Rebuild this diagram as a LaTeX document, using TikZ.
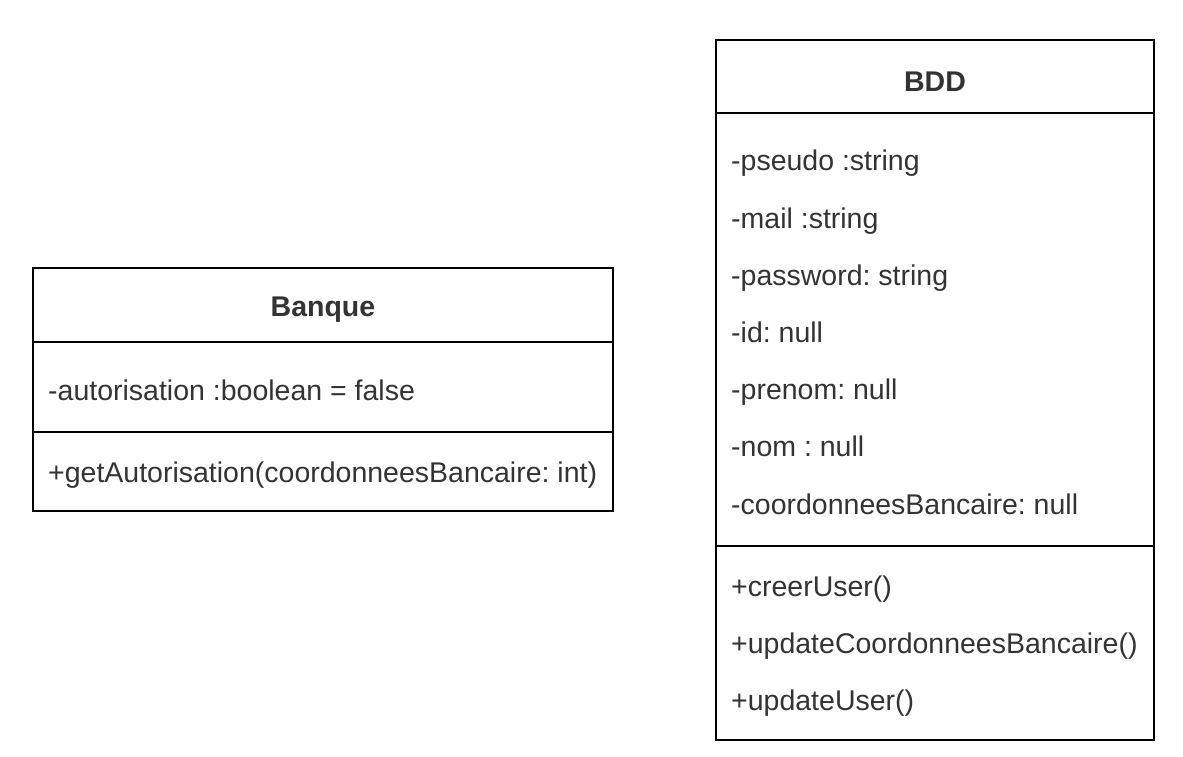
\documentclass[tikz,border=0pt]{standalone}
\usepackage{fontspec}
\setmainfont{Liberation Sans}
\usepackage{tikz}
\definecolor{txtgray}{HTML}{333333}
\frenchspacing

\tikzset{
    part/.style={draw, line width=2pt, rectangle, inner sep=0pt},
    field/.style={anchor=west, inner sep=0pt, text=txtgray, text height=20pt, text depth=6pt,
        font=\fontsize{28.5}{34}\selectfont, yshift=-4pt},
    classname/.style={inner sep=0pt, text=txtgray, font=\fontsize{28.5}{34}\selectfont\bfseries, yshift=-5pt}
}

\begin{document}
\begin{tikzpicture}[x=1pt, y=-1pt]
        \useasboundingbox (0,0) rectangle (1183,757);

        % Banque
        \node[part, minimum width=580pt, minimum height=74pt] (banqueTitle) at (323, 305) {};
        \node[part, minimum width=580pt, minimum height=90pt] (banqueAttr) at (323, 387) {};
        \node[part, minimum width=580pt, minimum height=79pt] (banqueOps) at (323, 471.5) {};
        \node[classname] (banque) at (banqueTitle) {Banque};
        \node[field] (autorisation) at (48, 389) {-autorisation :boolean = false};
        \node[field] (getAutorisation) at (48, 471) {+getAutorisation(coordonneesBancaire: int)};

        % BDD
        \node[part, minimum width=438pt, minimum height=73pt] (bddTitle) at (935, 76.5) {};
        \node[part, minimum width=438pt, minimum height=433pt] (bddAttr) at (935, 329.5) {};
        \node[part, minimum width=438pt, minimum height=194pt] (bddOps) at (935, 643) {};
        \node[classname] (bdd) at (bddTitle) {BDD};
        \node[field] (pseudo) at (731, 160) {-pseudo :string};
        \node[field] (mail) at (731, 217) {-mail :string};
        \node[field] (password) at (731, 274) {-password: string};
        \node[field] (id) at (731, 331) {-id: null};
        \node[field] (prenom) at (731, 388) {-prenom: null};
        \node[field] (nom) at (731, 445) {-nom : null};
        \node[field] (coordonnees) at (731, 503) {-coordonneesBancaire: null};
        \node[field] (creerUser) at (731, 585) {+creerUser()};
        \node[field] (updateCoord) at (731, 642) {+updateCoordonneesBancaire()};
        \node[field] (updateUser) at (731, 699) {+updateUser()};
    \end{tikzpicture}
\end{document}
